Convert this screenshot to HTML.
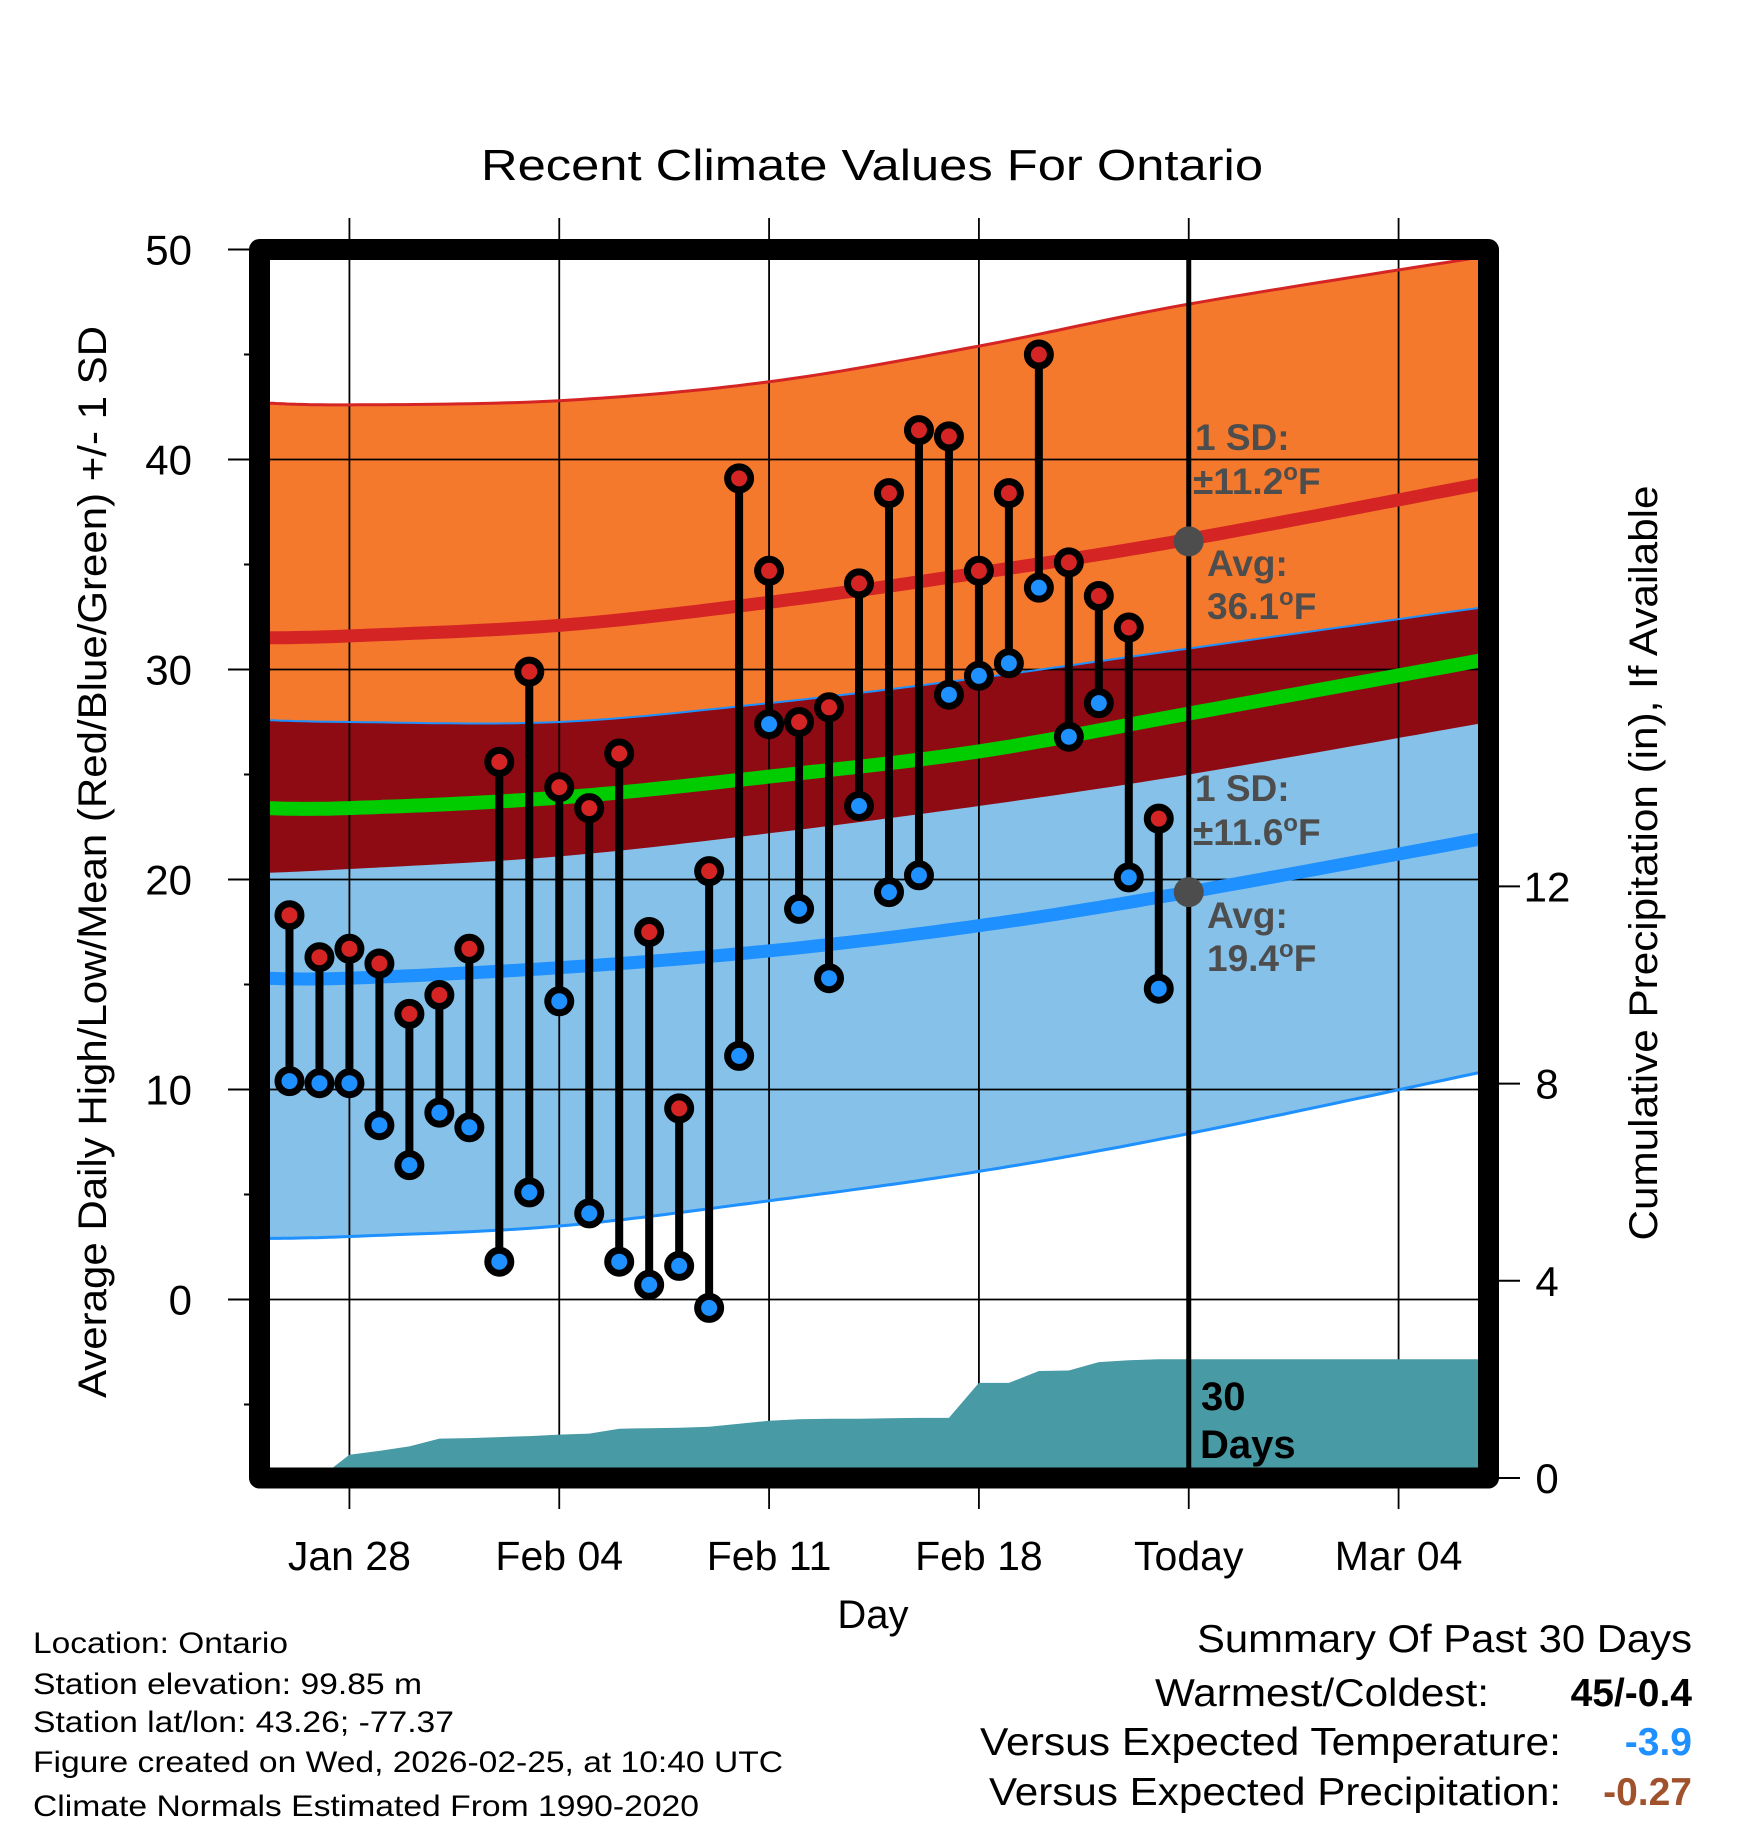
<!DOCTYPE html>
<html><head><meta charset="utf-8"><style>
html,body{margin:0;padding:0;background:#fff;}
svg{display:block;font-family:"Liberation Sans",sans-serif;}
</style></head><body>
<svg id="chart" width="1748" height="1828" viewBox="0 0 1748 1828" xmlns="http://www.w3.org/2000/svg">
<defs><clipPath id="plotclip"><rect x="259.5" y="249.5" width="1229" height="1228.5"/></clipPath></defs>
<g id="bands" clip-path="url(#plotclip)"></g>
<g id="grid"></g>
<g id="precip" clip-path="url(#plotclip)"></g>
<g id="lines" clip-path="url(#plotclip)"></g>
<g id="marks"></g>
<g id="axes"></g>
<text x="872" y="180" font-size="44" text-anchor="middle" textLength="782" lengthAdjust="spacingAndGlyphs">Recent Climate Values For Ontario</text>
<text x="873" y="1628" font-size="40" text-anchor="middle">Day</text>
<text transform="translate(106,862) rotate(-90)" font-size="40" text-anchor="middle" textLength="1072" lengthAdjust="spacingAndGlyphs">Average Daily High/Low/Mean (Red/Blue/Green) +/- 1 SD</text>
<text transform="translate(1657,863) rotate(-90)" font-size="40" text-anchor="middle" textLength="755" lengthAdjust="spacingAndGlyphs">Cumulative Precipitation (in), If Available</text>
<g fill="#4d4d4d" font-weight="bold" font-size="37">
<text x="1195" y="450">1 SD:</text>
<text x="1193" y="494">±11.2<tspan font-size="24" dy="-14">o</tspan><tspan dy="14">F</tspan></text>
<text x="1207" y="576">Avg:</text>
<text x="1207" y="619">36.1<tspan font-size="24" dy="-14">o</tspan><tspan dy="14">F</tspan></text>
<text x="1195" y="801">1 SD:</text>
<text x="1193" y="845">±11.6<tspan font-size="24" dy="-14">o</tspan><tspan dy="14">F</tspan></text>
<text x="1207" y="928">Avg:</text>
<text x="1207" y="971">19.4<tspan font-size="24" dy="-14">o</tspan><tspan dy="14">F</tspan></text>
</g>
<g font-weight="bold" font-size="40">
<text x="1201" y="1410">30</text>
<text x="1200" y="1458">Days</text>
</g>
<g font-size="30">
<text x="33" y="1653" textLength="255" lengthAdjust="spacingAndGlyphs">Location: Ontario</text>
<text x="33" y="1694" textLength="389" lengthAdjust="spacingAndGlyphs">Station elevation: 99.85 m</text>
<text x="33" y="1732" textLength="421" lengthAdjust="spacingAndGlyphs">Station lat/lon: 43.26; -77.37</text>
<text x="33" y="1772" textLength="750" lengthAdjust="spacingAndGlyphs">Figure created on Wed, 2026-02-25, at 10:40 UTC</text>
<text x="33" y="1816" textLength="666" lengthAdjust="spacingAndGlyphs">Climate Normals Estimated From 1990-2020</text>
</g>
<g font-size="39">
<text x="1692" y="1652" text-anchor="end" textLength="495" lengthAdjust="spacingAndGlyphs">Summary Of Past 30 Days</text>
<text x="1489" y="1706" text-anchor="end" textLength="334" lengthAdjust="spacingAndGlyphs">Warmest/Coldest:</text>
<text x="1692" y="1706" text-anchor="end" font-weight="bold">45/-0.4</text>
<text x="1561" y="1755" text-anchor="end" textLength="581" lengthAdjust="spacingAndGlyphs">Versus Expected Temperature:</text>
<text x="1692" y="1755" text-anchor="end" font-weight="bold" fill="#1e90ff">-3.9</text>
<text x="1561" y="1805" text-anchor="end" textLength="572" lengthAdjust="spacingAndGlyphs">Versus Expected Precipitation:</text>
<text x="1692" y="1805" text-anchor="end" font-weight="bold" fill="#a0522d">-0.27</text>
</g>
</svg>
<script>
// ---- data ----
const dayLabels = ["Jan 28","Feb 04","Feb 11","Feb 18","Today","Mar 04"];
const dayTicks = [3,10,17,24,31,38];
const yTicks = [0,10,20,30,40,50];
const y2Ticks = [0,4,8,12];
const obsDays = [1,2,3,4,5,6,7,8,9,10,11,12,13,14,15,16,17,18,19,20,21,22,23,24,25,26,27,28,29,30];
const highs = [18.3,16.3,16.7,16.0,13.6,14.5,16.7,25.6,29.9,24.4,23.4,26.0,17.5,9.1,20.4,39.1,34.7,27.5,28.2,34.1,38.4,41.4,41.1,34.7,38.4,45.0,35.1,33.5,32.0,22.9];
const lows = [10.4,10.3,10.3,8.3,6.4,8.9,8.2,1.8,5.1,14.2,4.1,1.8,0.7,1.6,-0.4,11.6,27.4,18.6,15.3,23.5,19.4,20.2,28.8,29.7,30.3,33.9,26.8,28.4,20.1,14.8];
const normDays = [0,3,10,17,24,31,41];
const highPlusSD = [42.7,42.6,42.8,43.7,45.4,47.4,49.7];
const highMean = [31.5,31.6,32.1,33.2,34.6,36.2,38.9];
const highMinusSD = [20.3,20.5,21.1,22.2,23.5,25.0,27.5];
const meanTemp = [23.4,23.4,23.9,24.9,26.1,27.9,30.5];
const lowPlusSD = [27.6,27.5,27.5,28.4,29.6,31.0,33.0];
const lowMean = [15.3,15.3,15.8,16.6,17.8,19.4,22.0];
const lowMinusSD = [2.9,3.0,3.5,4.7,6.1,7.9,10.9];
const precipDays = [2,3,4,5,6,7,8,9,10,11,12,13,14,15,16,17,18,19,20,21,22,23,24,25,26,27,28,29,30,41];
const precipCum = [0,0.47,0.55,0.64,0.8,0.81,0.83,0.85,0.88,0.9,1.0,1.01,1.02,1.04,1.1,1.16,1.19,1.2,1.2,1.21,1.22,1.22,1.93,1.93,2.17,2.18,2.35,2.39,2.41,2.41];
const todayDay = 31;
const highAvgToday = 36.1, lowAvgToday = 19.4;

// ---- axes ----
const X0=259.5, X1=1488.5, Y0=249.5, Y1=1478;
const xS = d => X0 + (d/41)*(X1-X0);
const yS = v => 1299.5 - v*21;
const pS = p => Y1 - p*49.3;
const NS="http://www.w3.org/2000/svg";
function mk(tag, attrs, parent){const e=document.createElementNS(NS,tag);for(const k in attrs)e.setAttribute(k,attrs[k]);parent.appendChild(e);return e;}
function curvePts(days, vals){
  const pts=[];
  const P=days.map((d,i)=>[xS(d),yS(vals[i])]);
  for(let i=0;i<P.length-1;i++){
    const p0=P[Math.max(0,i-1)],p1=P[i],p2=P[i+1],p3=P[Math.min(P.length-1,i+2)];
    for(let t=0;t<1;t+=0.05){
      const t2=t*t,t3=t2*t;
      const x=0.5*((2*p1[0])+(-p0[0]+p2[0])*t+(2*p0[0]-5*p1[0]+4*p2[0]-p3[0])*t2+(-p0[0]+3*p1[0]-3*p2[0]+p3[0])*t3);
      const y=0.5*((2*p1[1])+(-p0[1]+p2[1])*t+(2*p0[1]-5*p1[1]+4*p2[1]-p3[1])*t2+(-p0[1]+3*p1[1]-3*p2[1]+p3[1])*t3);
      pts.push([x,y]);
    }
  }
  pts.push(P[P.length-1]);
  return pts;
}
const ptsStr = pts => pts.map(p=>p[0].toFixed(1)+','+p[1].toFixed(1)).join(' ');
function band(upper, lower, fill, name){
  const u=curvePts(normDays,upper), l=curvePts(normDays,lower).reverse();
  const e=mk('polygon',{points:ptsStr(u.concat(l)),fill:fill},document.getElementById('bands'));
  
  
}
band(highPlusSD, highMinusSD, '#f5792c', 'high-sd-band');
band(lowPlusSD, lowMinusSD, '#85c1e8', 'low-sd-band');
band(lowPlusSD, highMinusSD, '#8f0b13', 'overlap-band');

const g=document.getElementById('grid');
yTicks.forEach(v=>{
  const e=mk('line',{x1:X0,x2:X1,y1:yS(v),y2:yS(v),stroke:'#000','stroke-width':1.8},g);
  
  
});
dayTicks.forEach(d=>{
  const e=mk('line',{x1:xS(d),x2:xS(d),y1:218,y2:1509,stroke:'#000','stroke-width':1.8},g);
  
  
});

const pp=precipDays.map((d,i)=>[xS(d),pS(precipCum[i])]);
pp.push([xS(41)+20,pS(precipCum[precipCum.length-1])]);
pp.push([xS(41)+20,Y1]);pp.push([xS(precipDays[0]),Y1]);
const pe=mk('polygon',{points:ptsStr(pp),fill:'#489aa5'},document.getElementById('precip'));



const L=document.getElementById('lines');
function line(vals, color, w, name){
  const e=mk('polyline',{points:ptsStr(curvePts(normDays,vals)),fill:'none',stroke:color,'stroke-width':w},L);
  
  
}
line(highPlusSD,'#d42424',3,'high-plus-sd-line');
line(lowPlusSD,'#1e90ff',2,'low-plus-sd-line');
line(lowMinusSD,'#1e90ff',3,'low-minus-sd-line');
line(highMean,'#d42424',13,'high-mean-line');
line(lowMean,'#1e90ff',13,'low-mean-line');
line(meanTemp,'#00cc00',14,'mean-line');
const tl=mk('line',{x1:xS(todayDay),x2:xS(todayDay),y1:Y0,y2:Y1,stroke:'#000','stroke-width':5},L);


[highAvgToday,lowAvgToday].forEach(v=>{
  const c=mk('circle',{cx:xS(todayDay),cy:yS(v),r:15,fill:'#4d4d4d'},L);
  
  
});

const M=document.getElementById('marks');
obsDays.forEach((d,i)=>{
  const x=xS(d);
  const s=mk('line',{x1:x,x2:x,y1:yS(highs[i]),y2:yS(lows[i]),stroke:'#000','stroke-width':8},M);
  
  
});
obsDays.forEach((d,i)=>{
  const x=xS(d);
  const h=mk('circle',{cx:x,cy:yS(highs[i]),r:11.5,fill:'#d42424',stroke:'#000','stroke-width':7},M);
  
  
  const l=mk('circle',{cx:x,cy:yS(lows[i]),r:11.5,fill:'#1e90ff',stroke:'#000','stroke-width':7},M);
  
  
});

const A=document.getElementById('axes');
const fr=mk('rect',{x:X0,y:Y0,width:X1-X0,height:Y1-Y0,fill:'none',stroke:'#000','stroke-width':21,'stroke-linejoin':'round'},A);


for(let v=-5;v<=50;v+=5){
  const major=v%10===0;
  const t=mk('line',{x1:major?228:244,x2:250,y1:yS(v),y2:yS(v),stroke:'#000','stroke-width':2},A);
  
  
}
yTicks.forEach(v=>{
  const t=mk('text',{x:192,y:yS(v)+15,'font-size':42,'text-anchor':'end'},A);
  t.textContent=v;
  
  
});
y2Ticks.forEach(p=>{
  const k=mk('line',{x1:1498,x2:1520,y1:pS(p),y2:pS(p),stroke:'#000','stroke-width':2},A);
  
  
  const t=mk('text',{x:1547,y:pS(p)+15,'font-size':42,'text-anchor':'middle'},A);
  t.textContent=p;
  
  
});
dayTicks.forEach((d,i)=>{
  const t=mk('text',{x:xS(d),y:1570,'font-size':41,'text-anchor':'middle'},A);
  t.textContent=dayLabels[i];
  
  
});
</script>
</body></html>
